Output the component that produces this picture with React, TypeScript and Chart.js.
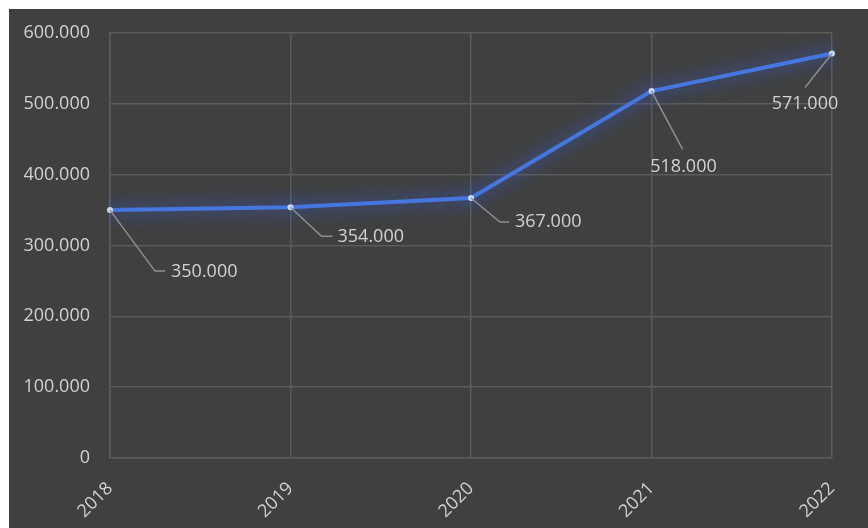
import React, { useEffect, useRef } from "react";
import { Chart, registerables } from "chart.js";

Chart.register(...registerables);

const years: string[] = ["2018", "2019", "2020", "2021", "2022"];
const revenue: number[] = [350000, 354000, 367000, 518000, 571000];
const yMin = 0;
const yMax = 600000;
const yStep = 100000;

const fmt = (v: number): string =>
  String(Math.round(v)).replace(/\B(?=(\d{3})+(?!\d))/g, ".");

const FONT = "'Open Sans', 'Noto Sans', sans-serif";
const TEXT = "#d2d2d2";
const GRID = "#5b5b5b";
const BG = "#404040";

// leader line geometry per label (style only)
type Leader = { pts: [number, number][]; tx: number; ty: number; align: CanvasTextAlign };
const leaders: Leader[] = [
  { pts: [[45, 61], [55, 61]], tx: 61, ty: 62, align: "left" },
  { pts: [[31, 29], [42, 29]], tx: 47, ty: 30, align: "left" },
  { pts: [[29, 24], [38, 24]], tx: 44, ty: 24, align: "left" },
  { pts: [[31, 58]], tx: 32, ty: 76, align: "center" },
  { pts: [[-27, 34]], tx: -27, ty: 50, align: "center" },
];

const bgPlugin = {
  id: "bgFill",
  beforeDraw(chart: any) {
    const { ctx, width, height } = chart;
    ctx.save();
    ctx.fillStyle = BG;
    ctx.fillRect(0, 0, width, height);
    ctx.restore();
  },
};

const glowPlugin = {
  id: "glow",
  beforeDatasetDraw(chart: any) {
    const ctx = chart.ctx;
    ctx.save();
    ctx.shadowColor = "rgba(50,100,235,1)";
    ctx.shadowBlur = 18;
  },
  afterDatasetDraw(chart: any) {
    chart.ctx.restore();
  },
};

const labelPlugin = {
  id: "leaderLabels",
  afterDatasetsDraw(chart: any) {
    const ctx = chart.ctx;
    const meta = chart.getDatasetMeta(0);
    const data = chart.data.datasets[0].data as number[];
    ctx.save();
    meta.data.forEach((pt: any, i: number) => {
      const l = leaders[i];
      if (!l) return;
      const x0 = pt.x;
      const y0 = pt.y;
      ctx.strokeStyle = "#8f8f8f";
      ctx.lineWidth = 1.5;
      ctx.beginPath();
      ctx.moveTo(x0, y0);
      l.pts.forEach(([dx, dy]) => ctx.lineTo(x0 + dx, y0 + dy));
      ctx.stroke();
      ctx.fillStyle = TEXT;
      ctx.font = `18px ${FONT}`;
      ctx.textAlign = l.align;
      ctx.textBaseline = "middle";
      ctx.fillText(fmt(data[i]), x0 + l.tx, y0 + l.ty);
    });
    ctx.restore();
  },
};

export default function App() {
  const ref = useRef<HTMLCanvasElement | null>(null);

  useEffect(() => {
    if (!ref.current) return;
    document.body.style.overflow = "hidden";
    const chart = new Chart(ref.current, {
      type: "line",
      data: {
        labels: years,
        datasets: [
          {
            data: revenue,
            borderColor: "#4677e0",
            borderWidth: 4,
            tension: 0,
            pointRadius: 3,
            pointBackgroundColor: "#c9d6ec",
            pointBorderWidth: 0,
            pointHoverRadius: 3,
          },
        ],
      },
      options: {
        animation: false,
        responsive: false,
        devicePixelRatio: 1,
        events: [],
        layout: { padding: { left: 0, top: 24, right: 36, bottom: 0 } },
        plugins: {
          legend: { display: false },
          tooltip: { enabled: false },
        },
        scales: {
          x: {
            offset: false,
            grid: { color: GRID, lineWidth: 1.5, drawTicks: false },
            border: { color: GRID, width: 1.5 },
            ticks: {
              color: TEXT,
              font: { family: FONT, size: 18 },
              minRotation: 45,
              maxRotation: 45,
              padding: 20,
            },
            afterFit(scale: any) {
              scale.height = 70;
              scale.paddingTop = 0;
              scale.paddingBottom = 0;
            },
          },
          y: {
            min: yMin,
            max: yMax,
            grid: { color: GRID, lineWidth: 1.5, drawTicks: false },
            border: { color: GRID, width: 1.5 },
            ticks: {
              stepSize: yStep,
              color: TEXT,
              font: { family: FONT, size: 18 },
              padding: 20,
              callback: (v: any) => fmt(Number(v)),
            },
            afterFit(scale: any) {
              scale.width = 101;
              scale.paddingTop = 0;
              scale.paddingBottom = 0;
            },
          },
        },
      },
      plugins: [bgPlugin, glowPlugin, labelPlugin],
    });
    return () => chart.destroy();
  }, []);

  return (
    <div style={{ position: "fixed", left: 9, top: 9, width: 859, height: 519 }}>
      <canvas ref={ref} width={859} height={519} style={{ display: "block" }} />
    </div>
  );
}
